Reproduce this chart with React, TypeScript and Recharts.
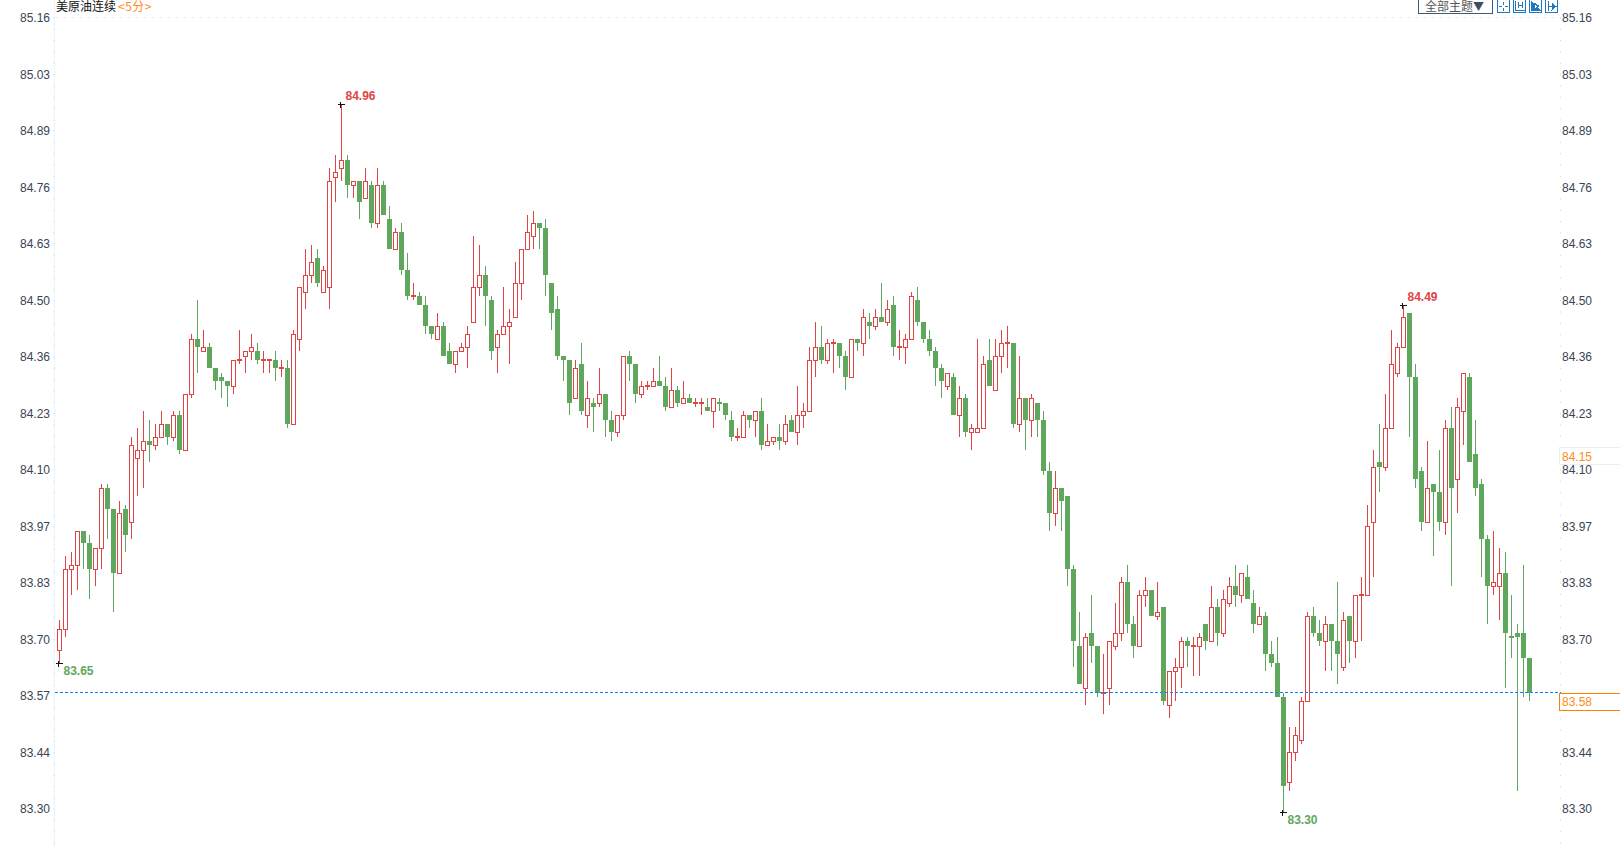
import React from 'react';
import { ComposedChart, Bar, XAxis, YAxis, ReferenceLine, ReferenceDot } from 'recharts';

// 5 minute candles
const opens = [
  83.68,83.73,83.87,83.88,83.96,83.93,83.87,83.92,84.06,84.01,
  83.86,84.01,83.98,84.13,84.15,84.17,84.16,84.18,84.21,84.18,
  84.23,84.15,84.28,84.41,84.38,84.39,84.34,84.32,84.31,84.30,
  84.36,84.37,84.38,84.38,84.36,84.36,84.36,84.34,84.34,84.21,
  84.41,84.52,84.56,84.60,84.52,84.53,84.79,84.81,84.83,84.77,
  84.78,84.74,84.77,84.68,84.77,84.69,84.62,84.66,84.57,84.51,
  84.51,84.49,84.44,84.41,84.44,84.38,84.35,84.38,84.39,84.45,
  84.53,84.56,84.50,84.39,84.42,84.44,84.46,84.54,84.62,84.65,
  84.68,84.67,84.54,84.48,84.37,84.36,84.27,84.35,84.23,84.26,
  84.26,84.28,84.22,84.19,84.23,84.37,84.35,84.28,84.30,84.30,
  84.31,84.30,84.25,84.29,84.26,84.27,84.26,84.26,84.25,84.24,
  84.26,84.26,84.22,84.18,84.18,84.23,84.22,84.24,84.16,84.17,
  84.18,84.17,84.22,84.19,84.23,84.24,84.36,84.39,84.36,84.40,
  84.40,84.37,84.32,84.41,84.40,84.45,84.44,84.46,84.45,84.49,
  84.39,84.39,84.41,84.50,84.45,84.41,84.38,84.34,84.30,84.32,
  84.23,84.27,84.19,84.19,84.20,84.36,84.29,84.37,84.40,84.40,
  84.21,84.27,84.22,84.26,84.22,84.10,84.00,84.06,84.04,83.87,
  83.69,83.59,83.72,83.69,83.58,83.59,83.69,83.72,83.84,83.74,
  83.69,83.81,83.82,83.76,83.78,83.55,83.63,83.64,83.70,83.69,
  83.69,83.74,83.70,83.78,83.72,83.79,83.83,83.81,83.85,83.79,
  83.74,83.76,83.67,83.65,83.57,83.37,83.44,83.47,83.56,83.76,
  83.72,83.70,83.74,83.70,83.64,83.76,83.70,83.81,83.81,83.98,
  84.12,84.11,84.20,84.33,84.39,84.47,84.32,84.10,83.98,84.07,
  84.05,83.98,84.20,84.08,84.24,84.32,84.14,84.07,83.94,83.83,
  83.83,83.86,83.71,83.72,83.72,83.66,
];
const highs = [
  83.75,83.90,83.91,83.96,83.96,83.95,83.92,84.07,84.07,84.01,
  84.03,84.02,84.18,84.20,84.24,84.22,84.21,84.24,84.21,84.24,
  84.24,84.28,84.42,84.50,84.43,84.40,84.34,84.33,84.31,84.36,
  84.43,84.38,84.42,84.40,84.38,84.36,84.38,84.36,84.36,84.43,
  84.53,84.62,84.63,84.62,84.58,84.81,84.84,84.96,84.84,84.78,
  84.78,84.81,84.78,84.81,84.78,84.72,84.67,84.68,84.61,84.54,
  84.52,84.51,84.44,84.47,84.45,84.40,84.38,84.40,84.44,84.65,
  84.63,84.58,84.51,84.43,84.53,84.48,84.59,84.62,84.70,84.71,
  84.68,84.69,84.54,84.51,84.37,84.36,84.36,84.40,84.31,84.27,
  84.34,84.28,84.24,84.23,84.37,84.38,84.35,84.31,84.31,84.34,
  84.37,84.32,84.34,84.30,84.31,84.28,84.27,84.27,84.27,84.27,
  84.27,84.26,84.24,84.20,84.24,84.23,84.24,84.27,84.21,84.18,
  84.21,84.23,84.23,84.30,84.26,84.39,84.45,84.44,84.41,84.41,
  84.40,84.38,84.41,84.41,84.48,84.47,84.48,84.54,84.50,84.51,
  84.43,84.42,84.52,84.53,84.45,84.43,84.39,84.35,84.33,84.33,
  84.30,84.28,84.21,84.41,84.37,84.41,84.41,84.43,84.44,84.40,
  84.37,84.27,84.28,84.26,84.24,84.12,84.10,84.06,84.04,83.88,
  83.77,83.72,83.81,83.69,83.67,83.70,83.79,83.85,83.88,83.76,
  83.82,83.85,83.82,83.84,83.78,83.63,83.66,83.71,83.71,83.71,
  83.72,83.74,83.83,83.80,83.82,83.85,83.88,83.86,83.88,83.82,
  83.78,83.77,83.70,83.71,83.58,83.50,83.50,83.57,83.77,83.78,
  83.75,83.76,83.74,83.84,83.77,83.76,83.81,83.85,84.02,84.15,
  84.21,84.28,84.43,84.40,84.49,84.47,84.35,84.11,84.17,84.07,
  84.15,84.22,84.25,84.27,84.33,84.33,84.22,84.08,83.95,83.96,
  83.92,83.91,83.81,83.74,83.88,83.66,
];
const lows = [
  83.65,83.71,83.81,83.82,83.87,83.80,83.83,83.87,83.94,83.77,
  83.86,83.91,83.94,84.04,84.06,84.12,84.15,84.18,84.16,84.17,
  84.14,84.15,84.27,84.33,84.38,84.34,84.29,84.27,84.25,84.28,
  84.35,84.33,84.36,84.35,84.33,84.33,84.31,84.32,84.20,84.21,
  84.38,84.48,84.54,84.53,84.52,84.48,84.73,84.78,84.74,84.74,
  84.69,84.74,84.67,84.67,84.70,84.62,84.62,84.56,84.50,84.50,
  84.49,84.42,84.41,84.41,84.37,84.35,84.33,84.38,84.34,84.45,
  84.51,84.44,84.36,84.33,84.42,84.35,84.46,84.50,84.62,84.62,
  84.62,84.51,84.43,84.36,84.31,84.23,84.27,84.23,84.20,84.19,
  84.25,84.18,84.17,84.18,84.22,84.31,84.26,84.27,84.29,84.30,
  84.30,84.24,84.25,84.25,84.26,84.26,84.25,84.23,84.24,84.20,
  84.24,84.22,84.17,84.17,84.18,84.20,84.18,84.15,84.16,84.16,
  84.15,84.16,84.19,84.16,84.20,84.24,84.32,84.35,84.35,84.33,
  84.34,84.29,84.32,84.38,84.37,84.41,84.43,84.45,84.44,84.37,
  84.36,84.35,84.41,84.44,84.40,84.37,84.30,84.27,84.29,84.23,
  84.18,84.18,84.15,84.19,84.20,84.30,84.29,84.33,84.34,84.20,
  84.19,84.15,84.18,84.18,84.09,83.96,83.97,83.96,83.83,83.64,
  83.60,83.55,83.65,83.57,83.53,83.55,83.68,83.70,83.72,83.66,
  83.69,83.78,83.76,83.75,83.55,83.52,83.56,83.59,83.64,83.62,
  83.62,83.68,83.70,83.69,83.71,83.78,83.78,83.79,83.80,83.72,
  83.74,83.63,83.64,83.57,83.30,83.35,83.42,83.46,83.56,83.71,
  83.69,83.63,83.63,83.60,83.63,83.65,83.66,83.70,83.81,83.85,
  84.05,84.10,84.20,84.32,84.39,84.18,84.06,83.96,83.98,83.90,
  83.96,83.95,83.83,84.00,84.16,84.12,84.04,83.85,83.74,83.81,
  83.75,83.59,83.66,83.35,83.57,83.56,
];
const closes = [
  83.73,83.87,83.88,83.96,83.93,83.87,83.92,84.06,84.01,83.86,
  84.00,83.95,84.16,84.15,84.17,84.16,84.18,84.21,84.18,84.23,
  84.15,84.28,84.41,84.39,84.39,84.34,84.31,84.31,84.30,84.36,
  84.36,84.38,84.39,84.36,84.36,84.36,84.34,84.34,84.21,84.42,
  84.53,84.56,84.59,84.54,84.57,84.78,84.80,84.83,84.77,84.78,
  84.73,84.78,84.68,84.77,84.70,84.62,84.66,84.57,84.51,84.51,
  84.49,84.44,84.42,84.44,84.37,84.35,84.38,84.39,84.42,84.53,
  84.56,84.51,84.38,84.42,84.44,84.45,84.54,84.62,84.66,84.68,
  84.67,84.56,84.47,84.37,84.36,84.26,84.34,84.24,84.27,84.25,
  84.28,84.22,84.19,84.23,84.37,84.35,84.28,84.30,84.30,84.31,
  84.30,84.25,84.29,84.26,84.27,84.26,84.26,84.26,84.24,84.27,
  84.257,84.23,84.18,84.18,84.23,84.22,84.24,84.16,84.17,84.18,
  84.17,84.21,84.19,84.23,84.24,84.36,84.39,84.36,84.40,84.40,
  84.37,84.32,84.41,84.40,84.46,84.44,84.46,84.45,84.48,84.39,
  84.39,84.41,84.51,84.45,84.41,84.38,84.34,84.31,84.33,84.23,
  84.27,84.19,84.20,84.20,84.35,84.30,84.37,84.40,84.40,84.21,
  84.27,84.22,84.27,84.22,84.10,84.00,84.06,84.03,83.87,83.70,
  83.60,83.71,83.69,83.58,83.58,83.70,83.72,83.84,83.74,83.69,
  83.81,83.82,83.76,83.77,83.56,83.63,83.64,83.70,83.69,83.69,
  83.71,83.70,83.78,83.72,83.80,83.83,83.81,83.86,83.80,83.74,
  83.76,83.67,83.65,83.57,83.36,83.44,83.48,83.56,83.76,83.72,
  83.70,83.74,83.70,83.67,83.75,83.70,83.81,83.81,83.97,84.11,
  84.11,84.20,84.35,84.39,84.46,84.32,84.08,83.98,84.06,84.05,
  83.98,84.20,84.06,84.25,84.33,84.12,84.06,83.94,83.83,83.84,
  83.86,83.72,83.707,83.71,83.66,83.58,
];

// where the axis labels sit (the printed label is rounded by the source)
const tickLevels = [85.162,85.029,84.897,84.764,84.632,84.499,84.367,84.234,84.102,83.969,83.837,83.704,83.572,83.439,83.307];
const tickLabels = ['85.16','85.03','84.89','84.76','84.63','84.50','84.36','84.23','84.10','83.97','83.83','83.70','83.57','83.44','83.30'];
const lastPrice = 83.58;
const lastLabel = '83.58';
const prevLevel = 84.156;
const prevLabel = '84.15';

// highest and lowest marks: candle index, price, text
const extremes = [
  { index: 47, price: 84.96, text: '84.96', up: true },
  { index: 224, price: 84.49, text: '84.49', up: true },
  { index: 0, price: 83.65, text: '83.65', up: false },
  { index: 204, price: 83.30, text: '83.30', up: false },
];

const RED = '#e04444';
const GREEN = '#5fa75c';
const LABEL = '#3a4455';
const FONT = '"Liberation Sans", Arial, sans-serif';

const data = opens.map((open, i) => ({
  index: i,
  open,
  close: closes[i],
  high: highs[i],
  low: lows[i],
  range: [lows[i], highs[i]],
}));

const minorStep = (tickLevels[0] - tickLevels[1]) / 5;
const minorLevels: number[] = [];
tickLevels.forEach((level) => {
  for (let k = 1; k < 5; k++) {
    if (level - k * minorStep > 83.22) minorLevels.push(level - k * minorStep);
  }
});
const axisTicks = [...tickLevels, ...minorLevels];

const Candle = (props: any) => {
  const { x, y, width, height, payload } = props;
  const top = Math.min(y, y + height);
  const bottom = Math.max(y, y + height);
  const unit = (bottom - top) / (payload.high - payload.low);
  const yOf = (p: number) => top + (payload.high - p) * unit;
  const cx = Math.round(x + width / 2 - 0.5) + 0.5;
  const up = payload.close >= payload.open;
  const color = up ? RED : GREEN;
  const bodyTop = Math.round(yOf(Math.max(payload.open, payload.close)));
  const bodyBottom = Math.round(yOf(Math.min(payload.open, payload.close)));
  const flat = bodyBottom - bodyTop < 2;
  return (
    <g shapeRendering="crispEdges">
      <line x1={cx} x2={cx} y1={Math.round(top)} y2={Math.round(bottom)} stroke={color} strokeWidth={1} />
      {flat ? (
        <rect x={cx - 2.5} y={bodyTop - 1} width={5} height={2} fill={color} />
      ) : up ? (
        <rect x={cx - 2} y={bodyTop + 0.5} width={4} height={bodyBottom - bodyTop} fill="#fff" stroke={color} strokeWidth={1} />
      ) : (
        <rect x={cx - 2.5} y={bodyTop} width={5} height={bodyBottom - bodyTop} fill={color} />
      )}
    </g>
  );
};

const LeftTick = (props: any) => {
  const { y, payload } = props;
  const i = tickLevels.indexOf(payload.value);
  return (
    <g>
      <line x1={53} x2={54.5} y1={y} y2={y} stroke="#d2e4f0" strokeWidth={1} />
      {i >= 0 && (
        <text x={50} y={y + 4} textAnchor="end" fontSize={12} fontFamily={FONT} fill={LABEL}>{tickLabels[i]}</text>
      )}
    </g>
  );
};

const RightTick = (props: any) => {
  const { y, payload } = props;
  if (payload.value === lastPrice) {
    const top = Math.round(y) + 0.5;
    return (
      <g>
        <rect x={1559.5} y={top} width={70} height={17} fill="#fff" stroke="#ff8000" strokeWidth={1} />
        <text x={1562} y={top + 12.5} fontSize={12} fontFamily={FONT} fill="#ff8c1a">{lastLabel}</text>
      </g>
    );
  }
  if (payload.value === prevLevel) {
    const top = Math.round(y) + 0.5;
    return (
      <g>
        <rect x={1559.5} y={top} width={70} height={17} fill="#fff" stroke="#e9eef1" strokeWidth={1} />
        <text x={1562} y={top + 13} fontSize={12} fontFamily={FONT} fill="#ff8c1a">{prevLabel}</text>
      </g>
    );
  }
  const i = tickLevels.indexOf(payload.value);
  // the label next to the last price is covered by its tag
  const covered = Math.abs(payload.value - lastPrice) < 0.02;
  return (
    <g>
      <line x1={1560} x2={1561} y1={y} y2={y} stroke="#d0d3d6" strokeWidth={1} />
      {i >= 0 && !covered && (
        <text x={1562} y={y + 4} fontSize={12} fontFamily={FONT} fill={LABEL}>{tickLabels[i]}</text>
      )}
    </g>
  );
};

const ExtremeMark = (mark: { text: string; up: boolean }) => (props: any) => {
  const { cx, cy } = props;
  const px = Math.round(cx - 0.5) + 0.5;
  const py = Math.round(cy) + 0.5;
  return (
    <g>
      <g shapeRendering="crispEdges" stroke="#111" strokeWidth={1}>
        <line x1={px - 3} x2={px + 4} y1={py} y2={py} />
        <line x1={px} x2={px} y1={py - 3} y2={py + 3} />
      </g>
      <text
        x={px + 5}
        y={mark.up ? py - 5 : py + 11}
        fontSize={12}
        fontWeight="bold"
        fontFamily={FONT}
        fill={mark.up ? RED : GREEN}
      >
        {mark.text}
      </text>
    </g>
  );
};

const iconLefts = [1497, 1513, 1529, 1545];

const ToolIcon = ({ left, kind }: { left: number; kind: number }) => {
  const glyphs = [
    'M6.500 2v3M6.500 8v3M2 6.500h3M8 6.500h3',
    'M2.500 1v9.500h9M5.500 2v6M9.500 2v6M5.500 5.500h4',
    'M2.500 1v9.500h9M5 3l5 3-5 3z',
    'M3.500 1v10M4 6.500h4M7 3.500l4 3-4 3z',
  ];
  return (
    <svg width={13} height={13} style={{ position: 'absolute', left, top: 0 }} shapeRendering="crispEdges">
      <rect x={0.5} y={-2} width={12} height={14.5} fill="#fff" stroke="#2078bc" />
      <path d={glyphs[kind]} fill={kind >= 2 ? '#2078bc' : 'none'} stroke="#2078bc" strokeWidth={1} />
    </svg>
  );
};

export default function App() {
  return (
    <div style={{ position: 'absolute', left: 0, top: 0, width: 1620, height: 847, overflow: 'hidden', background: '#fff' }}>
      <ComposedChart width={1620} height={847} data={data} margin={{ top: 0, right: 0, bottom: 0, left: 0 }}>
        <XAxis dataKey="index" hide padding={{ left: 1, right: 29 }} />
        <YAxis
          yAxisId="left"
          width={54.5}
          domain={[83.218, 85.204]}
          allowDataOverflow
          ticks={axisTicks}
          interval={0}
          tick={LeftTick}
          tickLine={false}
          axisLine={{ stroke: '#eef3f8' }}
        />
        <YAxis
          yAxisId="right"
          orientation="right"
          width={59.5}
          domain={[83.218, 85.204]}
          allowDataOverflow
          ticks={[...axisTicks, prevLevel, lastPrice]}
          interval={0}
          tick={RightTick}
          tickLine={false}
          axisLine={false}
        />
        <ReferenceLine yAxisId="left" y={tickLevels[0]} stroke="#f0f0f0" strokeDasharray="4 4" shapeRendering="crispEdges" />
        <Bar yAxisId="left" dataKey="range" barSize={5} shape={Candle} isAnimationActive={false} />
        <ReferenceLine yAxisId="left" y={lastPrice} stroke="#0a84ff" strokeDasharray="3 2" shapeRendering="crispEdges" />
        {extremes.map((m) => (
          <ReferenceDot
            key={m.text}
            yAxisId="left"
            x={m.index}
            y={m.price}
            ifOverflow="visible"
            shape={ExtremeMark(m)}
          />
        ))}
      </ComposedChart>

      <div style={{ position: 'absolute', left: 56, top: 0, fontSize: 12, lineHeight: '12px', fontFamily: '"Noto Sans CJK SC", sans-serif', color: '#111', whiteSpace: 'nowrap' }}>
        美原油连续<span style={{ color: '#ff8c1a', marginLeft: 2, letterSpacing: 0.5 }}>&lt;5分&gt;</span>
      </div>
      <div style={{ position: 'absolute', left: 1418, top: -8, width: 73, height: 20, border: '1px solid #3f5a78', background: '#fff', boxSizing: 'content-box', fontSize: 12, lineHeight: '12px', fontFamily: '"Noto Sans CJK SC", sans-serif', color: '#555', whiteSpace: 'nowrap' }}>
        <div style={{ position: 'absolute', left: 6, top: 7 }}>全部主题<span style={{ color: '#3f4f5f', fontSize: 11 }}>▼</span></div>
      </div>
      {iconLefts.map((left, i) => (
        <ToolIcon key={left} left={left} kind={i} />
      ))}
    </div>
  );
}
